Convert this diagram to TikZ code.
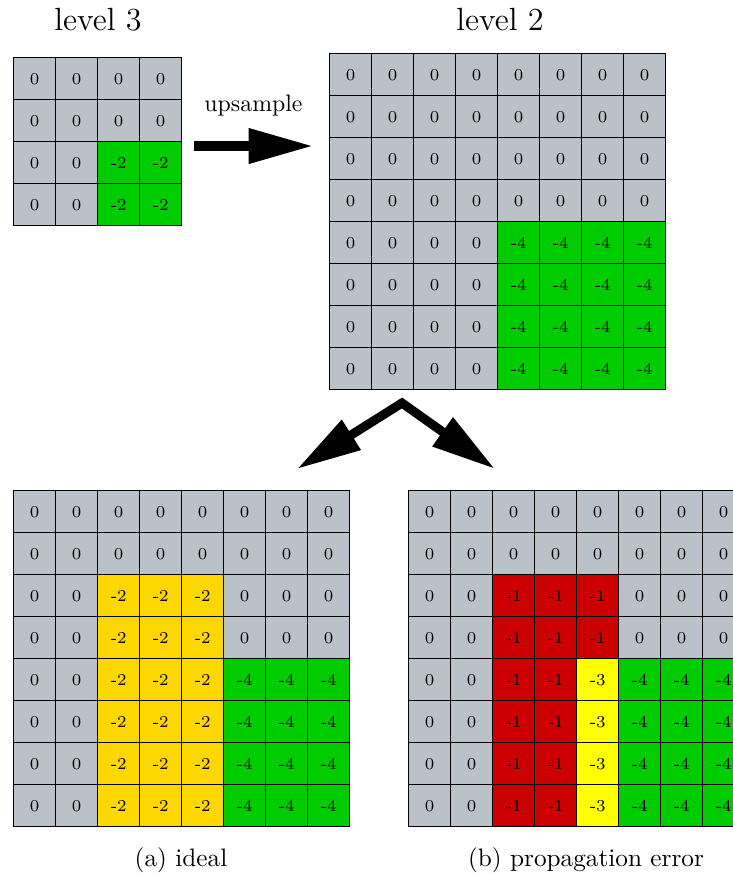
\documentclass[tikz,border=0pt]{standalone}
\usepackage{amsmath,amsfonts,amssymb}
\usepackage{tikz}
\usetikzlibrary{arrows.meta}

\definecolor{gy}{HTML}{BBC1C9}
\definecolor{gn}{HTML}{00CC00}
\definecolor{au}{HTML}{FFD700}
\definecolor{rd}{HTML}{CC0000}
\definecolor{yw}{HTML}{FFFF00}

% one grid of cells, rows given as lists of value/colour
\newcommand{\valuegrid}[4]{%
	\foreach \row [count=\i from 0] in {#4} {
		\foreach \v/\c [count=\j from 0] in \row {
			\node[cell,fill=\c] (#1-\i-\j) at ({#2+42*\j},{#3+42*\i}) {\v};
		}
	}
}

\begin{document}
\begin{tikzpicture}[x=0.42pt,y=-0.42pt,
		cell/.style={draw,line width=0.6pt,anchor=north west,inner sep=0pt,
			minimum size=17.64pt,font=\scriptsize},
		bigarrow/.style={line width=3.8pt,line join=miter,
			-{Triangle[length=27pt,width=14pt]}}]
	\useasboundingbox (0,0) rectangle (733,874);
	
	\node[font=\fontsize{13.5}{16}\selectfont] (lvl3) at (98,20) {level 3};
	\node[font=\fontsize{13.5}{16}\selectfont] (lvl2) at (500,20) {level 2};
	
	\valuegrid{L3}{13}{57}{
		{0/gy,0/gy,0/gy,0/gy},
		{0/gy,0/gy,0/gy,0/gy},
		{0/gy,0/gy,-2/gn,-2/gn},
		{0/gy,0/gy,-2/gn,-2/gn}}
	
	\valuegrid{L2}{329}{53}{
		{0/gy,0/gy,0/gy,0/gy,0/gy,0/gy,0/gy,0/gy},
		{0/gy,0/gy,0/gy,0/gy,0/gy,0/gy,0/gy,0/gy},
		{0/gy,0/gy,0/gy,0/gy,0/gy,0/gy,0/gy,0/gy},
		{0/gy,0/gy,0/gy,0/gy,0/gy,0/gy,0/gy,0/gy},
		{0/gy,0/gy,0/gy,0/gy,-4/gn,-4/gn,-4/gn,-4/gn},
		{0/gy,0/gy,0/gy,0/gy,-4/gn,-4/gn,-4/gn,-4/gn},
		{0/gy,0/gy,0/gy,0/gy,-4/gn,-4/gn,-4/gn,-4/gn},
		{0/gy,0/gy,0/gy,0/gy,-4/gn,-4/gn,-4/gn,-4/gn}}
	
	% ideal result
	\valuegrid{ideal}{13}{490}{
		{0/gy,0/gy,0/gy,0/gy,0/gy,0/gy,0/gy,0/gy},
		{0/gy,0/gy,0/gy,0/gy,0/gy,0/gy,0/gy,0/gy},
		{0/gy,0/gy,-2/au,-2/au,-2/au,0/gy,0/gy,0/gy},
		{0/gy,0/gy,-2/au,-2/au,-2/au,0/gy,0/gy,0/gy},
		{0/gy,0/gy,-2/au,-2/au,-2/au,-4/gn,-4/gn,-4/gn},
		{0/gy,0/gy,-2/au,-2/au,-2/au,-4/gn,-4/gn,-4/gn},
		{0/gy,0/gy,-2/au,-2/au,-2/au,-4/gn,-4/gn,-4/gn},
		{0/gy,0/gy,-2/au,-2/au,-2/au,-4/gn,-4/gn,-4/gn}}
	
	% with propagation error
	\valuegrid{err}{408}{490}{
		{0/gy,0/gy,0/gy,0/gy,0/gy,0/gy,0/gy,0/gy},
		{0/gy,0/gy,0/gy,0/gy,0/gy,0/gy,0/gy,0/gy},
		{0/gy,0/gy,-1/rd,-1/rd,-1/rd,0/gy,0/gy,0/gy},
		{0/gy,0/gy,-1/rd,-1/rd,-1/rd,0/gy,0/gy,0/gy},
		{0/gy,0/gy,-1/rd,-1/rd,-3/yw,-4/gn,-4/gn,-4/gn},
		{0/gy,0/gy,-1/rd,-1/rd,-3/yw,-4/gn,-4/gn,-4/gn},
		{0/gy,0/gy,-1/rd,-1/rd,-3/yw,-4/gn,-4/gn,-4/gn},
		{0/gy,0/gy,-1/rd,-1/rd,-3/yw,-4/gn,-4/gn,-4/gn}}
	
	% arrows
	\coordinate (up-start) at (194,146);
	\coordinate (up-end) at (313,146);
	\coordinate (split) at (402,403);
	\coordinate (to-ideal) at (297,469);
	\coordinate (to-err) at (495,469);
	
	\draw[bigarrow] (up-start) -- (up-end) node[midway,above=7.5pt] (upl) {upsample};
	\draw[bigarrow,{Triangle[length=27pt,width=14pt]}-{Triangle[length=27pt,width=14pt]}]
		(to-ideal) -- (split) -- (to-err);
	
	\node[font=\fontsize{10.6}{13}\selectfont] (capa) at (181,860) {(a) ideal};
	\node[font=\fontsize{10.6}{13}\selectfont] (capb) at (586,860) {(b) propagation error};
\end{tikzpicture}
\end{document}
